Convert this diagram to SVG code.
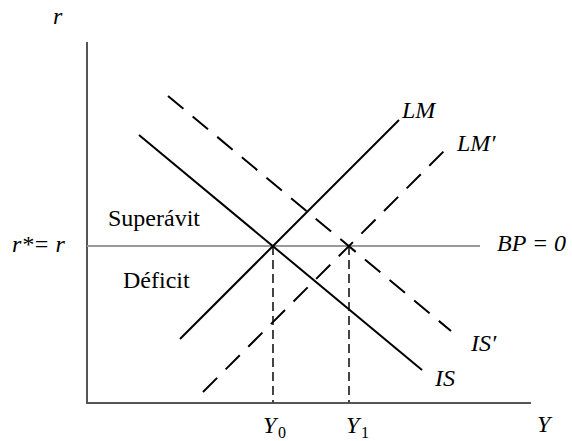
<svg xmlns="http://www.w3.org/2000/svg" width="572" height="441" viewBox="0 0 572 441">
<rect width="572" height="441" fill="#fff"/>
<g id="regions">
<text x="108" y="226" font-size="24" font-family="Liberation Serif">Superávit</text>
<text x="123" y="288" font-size="24" font-family="Liberation Serif">Déficit</text>
</g>
<g id="axes">
<line x1="87" y1="42" x2="87" y2="404" stroke="#555" stroke-width="2"/>
<line x1="86" y1="403" x2="531" y2="403" stroke="#555" stroke-width="2"/>
<text x="53" y="24" font-size="24" font-family="Liberation Serif" font-style="italic">r</text>
<text x="537" y="432" font-size="24" font-family="Liberation Serif" font-style="italic">Y</text>
</g>
<g id="connectors" fill="none">
<line x1="87" y1="246" x2="480" y2="246" stroke="#999" stroke-width="2"/>
<line x1="273" y1="246" x2="273" y2="403" stroke="#444" stroke-width="2" stroke-dasharray="9 5"/>
<line x1="349" y1="246" x2="349" y2="403" stroke="#444" stroke-width="2" stroke-dasharray="9 5"/>
</g>
<g id="IS">
<line x1="139" y1="135" x2="422" y2="370" stroke="#000" stroke-width="2"/>
<text x="435" y="386" font-size="24" font-family="Liberation Serif" font-style="italic">IS</text>
</g>
<g id="ISp">
<line x1="168" y1="96" x2="451" y2="331" stroke="#000" stroke-width="2" stroke-dasharray="20 12"/>
<text x="471" y="351" font-size="24" font-family="Liberation Serif" font-style="italic">IS′</text>
</g>
<g id="LM">
<line x1="180" y1="339" x2="399" y2="120" stroke="#000" stroke-width="2"/>
<text x="402" y="118" font-size="24" font-family="Liberation Serif" font-style="italic">LM</text>
</g>
<g id="LMp">
<line x1="203" y1="392" x2="444" y2="151" stroke="#000" stroke-width="2" stroke-dasharray="20 12"/>
<text x="457" y="151" font-size="24" font-family="Liberation Serif" font-style="italic">LM′</text>
</g>
<g id="BP">
<text x="497" y="251" font-size="24" font-family="Liberation Serif" font-style="italic">BP = 0</text>
</g>
<g id="rstar">
<text x="12" y="252" font-size="24" font-family="Liberation Serif" font-style="italic">r*= r</text>
</g>
<g id="Y0">
<text x="263" y="433" font-size="24" font-family="Liberation Serif" font-style="italic">Y</text>
<text x="278" y="438" font-size="16" font-family="Liberation Serif">0</text>
</g>
<g id="Y1">
<text x="346" y="433" font-size="24" font-family="Liberation Serif" font-style="italic">Y</text>
<text x="361" y="438" font-size="16" font-family="Liberation Serif">1</text>
</g>
</svg>
